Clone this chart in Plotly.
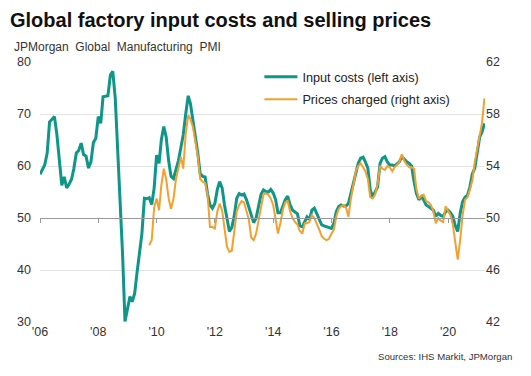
import pandas as pd
import plotly.graph_objects as go

# Input costs (left axis), monthly from Jan 2006
input_costs = [
    58.4, 59.2, 60.2, 62.5, 68.5, 69.0, 69.5, 66.0, 61.0, 56.3, 57.9, 55.8,
    56.5, 57.5, 59.5, 62.5, 63.0, 64.4, 62.2, 61.9, 59.6, 60.8, 64.5, 65.3,
    69.5, 68.2, 73.3, 73.4, 73.5, 77.5, 78.2, 73.0, 63.0, 51.0, 42.9, 30.1,
    32.5, 34.9, 33.9, 35.5, 39.5, 42.9, 47.0, 53.8, 53.7, 53.9, 52.6, 55.7,
    62.1, 60.5, 65.0, 67.6, 65.6, 61.0, 58.0, 57.6, 59.2, 61.0, 63.5, 66.0,
    70.0, 73.5, 72.0, 69.0, 66.3, 62.5, 58.5, 58.0, 57.9, 54.7, 52.5, 51.9,
    52.8, 55.5, 57.0, 55.8, 52.5, 49.6, 47.4, 48.2, 50.5, 53.8, 54.7, 54.4,
    54.6, 53.5, 52.0, 50.3, 49.1, 50.0, 52.5, 54.5, 55.4, 55.1, 55.0, 55.5,
    54.8, 53.5, 51.0, 51.0, 52.2, 53.5, 54.2, 52.5, 51.5, 51.2, 50.8, 48.5,
    48.3, 49.3, 50.2, 49.7, 51.5, 51.9, 50.9, 49.6, 48.7, 48.5, 48.3, 48.2,
    48.0, 49.0, 51.2, 52.2, 52.5, 52.3, 52.3, 52.8, 54.7, 57.0, 58.5, 60.5,
    61.5, 61.7, 60.8, 59.6, 55.4, 54.1, 55.0, 56.0, 60.5, 61.5, 61.8, 60.8,
    60.2, 60.2, 60.0, 60.5, 60.8, 61.8, 61.2, 60.8, 60.5, 60.0, 57.0, 54.7,
    53.5, 54.1, 53.5, 52.5, 52.2, 51.8, 51.5, 50.3, 50.9, 50.5, 50.3, 51.2,
    51.5, 51.0, 50.3, 48.5, 47.4, 50.9, 53.1, 54.0, 54.4, 56.0, 58.5, 59.6,
    62.8, 65.6, 66.5, 68.2,
]

# Prices charged (right axis), monthly from Oct 2009
prices_charged = [
    47.9, 48.3, 50.8,
    51.5, 50.6, 52.5, 53.8, 53.0, 51.5, 50.7, 51.5, 53.0, 53.8, 54.7, 53.8,
    56.5, 57.9, 57.6, 57.0, 56.0, 54.8, 53.0, 52.8, 52.7, 51.8, 49.3, 49.3,
    49.2, 50.5, 51.1, 50.6, 49.2, 47.8, 47.4, 47.5, 49.0, 50.5, 51.0, 51.3,
    51.2, 50.5, 49.9, 48.5, 48.3, 48.8, 49.8, 51.0, 51.8, 51.9, 51.8, 51.5,
    51.0, 49.9, 48.8, 49.6, 50.6, 51.2, 51.3, 50.5, 50.0, 49.7, 49.5, 49.0,
    48.8, 49.6, 49.6, 49.7, 50.2, 50.0, 49.6, 49.1, 48.6, 48.4, 48.3, 48.4,
    48.8, 49.1, 50.1, 50.7, 50.9, 51.0, 50.8, 50.1, 51.5, 52.5, 53.6, 54.0,
    54.2, 53.9, 53.6, 53.0, 51.6, 51.5, 51.8, 52.6, 54.0, 53.8, 53.7, 54.0,
    53.9, 53.6, 53.9, 54.1, 54.3, 54.9, 54.4, 54.1, 53.9, 53.9, 53.8, 52.2,
    51.5, 51.7, 51.8, 51.3, 51.2, 51.0, 50.5, 49.6, 50.0, 49.8, 49.7, 50.9,
    50.6, 50.2, 49.5, 48.0, 46.8, 48.3, 50.2, 51.4, 51.6, 52.2, 52.9, 54.3,
    55.3, 56.2, 57.3, 59.2,
]

dates_input = pd.date_range("2006-01-01", periods=len(input_costs), freq="MS")
dates_prices = pd.date_range("2009-10-01", periods=len(prices_charged), freq="MS")

tick_years = [2006, 2008, 2010, 2012, 2014, 2016, 2018, 2020]
tick_labels = ["'06", "'08", "'10", "'12", "'14", "'16", "'18", "'20"]
tick_dates = [f"{y}-01-01" for y in tick_years]

left_ticks = [30, 40, 50, 60, 70, 80]
right_ticks = [42, 46, 50, 54, 58, 62]

TEAL = "#0e9688"
ORANGE = "#f5a02e"
TXT = "#333333"
FONT = "Liberation Sans, Arial, sans-serif"

fig = go.Figure()
fig.add_trace(go.Scatter(
    x=dates_input, y=input_costs, mode="lines", name="Input costs (left axis)",
    line=dict(color=TEAL, width=3), legendgroup="a", yaxis="y",
))
fig.add_trace(go.Scatter(
    x=dates_prices, y=prices_charged, mode="lines", name="Prices charged (right axis)",
    line=dict(color=ORANGE, width=2), legendgroup="b", yaxis="y2",
))
# invisible helper trace for the axis drawn at the 50 line
fig.add_trace(go.Scatter(
    x=dates_input, y=input_costs, mode="lines", line=dict(width=0, color="rgba(0,0,0,0)"),
    xaxis="x2", yaxis="y", showlegend=False, hoverinfo="skip",
))

xr = ["2006-01-01", "2021-04-08"]
fig.update_layout(
    width=523, height=368,
    margin=dict(l=32, r=46, t=54, b=54),
    paper_bgcolor="white", plot_bgcolor="white",
    font=dict(family=FONT, color=TXT, size=12),
    showlegend=True,
    legend=dict(
        x=0.493, y=1.0, xanchor="left", yanchor="top",
        bgcolor="rgba(255,255,255,0)", font=dict(size=12.7, color="#222222"),
        traceorder="grouped", tracegroupgap=3, itemwidth=33,
    ),
    xaxis=dict(
        range=xr, type="date", tickmode="array", tickvals=tick_dates, ticktext=tick_labels,
        showgrid=False, showline=False, ticks="", zeroline=False,
        tickfont=dict(size=12.5, color=TXT), automargin=False,
    ),
    xaxis2=dict(
        range=xr, type="date", overlaying="x", anchor="free", position=0.4,
        tickmode="array", tickvals=tick_dates, showticklabels=False,
        showgrid=False, showline=True, linecolor="#999999", linewidth=1,
        ticks="outside", ticklen=4, tickcolor="#999999", zeroline=False,
    ),
    yaxis=dict(
        range=[30, 80], tickmode="array", tickvals=left_ticks,
        showgrid=True, gridcolor="#e3e3e3", gridwidth=1, zeroline=False,
        showline=False, ticks="", tickfont=dict(size=12.5, color=TXT),
        ticklabelstandoff=8, automargin=False,
    ),
    yaxis2=dict(
        range=[42, 62], tickmode="array", tickvals=right_ticks, overlaying="y",
        side="right", showgrid=False, zeroline=False, showline=False, ticks="",
        tickfont=dict(size=12.5, color=TXT), automargin=False,
    ),
    annotations=[
        dict(text="<b>Global factory input costs and selling prices</b>", xref="paper", yref="paper",
             x=-0.0708, y=1.0, xanchor="left", yanchor="bottom", yshift=29, showarrow=False,
             font=dict(size=20, color="#111111")),
        dict(text="JPMorgan  Global  Manufacturing  PMI", xref="paper", yref="paper",
             x=-0.063, y=1.0, xanchor="left", yanchor="bottom", yshift=6, showarrow=False,
             font=dict(size=12, color=TXT)),
        dict(text="Sources: IHS Markit, JPMorgan", xref="paper", yref="paper",
             x=1.065, y=0, xanchor="right", yanchor="top", yshift=-27, showarrow=False,
             font=dict(size=9.6, color=TXT)),
    ],
)

fig.write_html("out.html")
